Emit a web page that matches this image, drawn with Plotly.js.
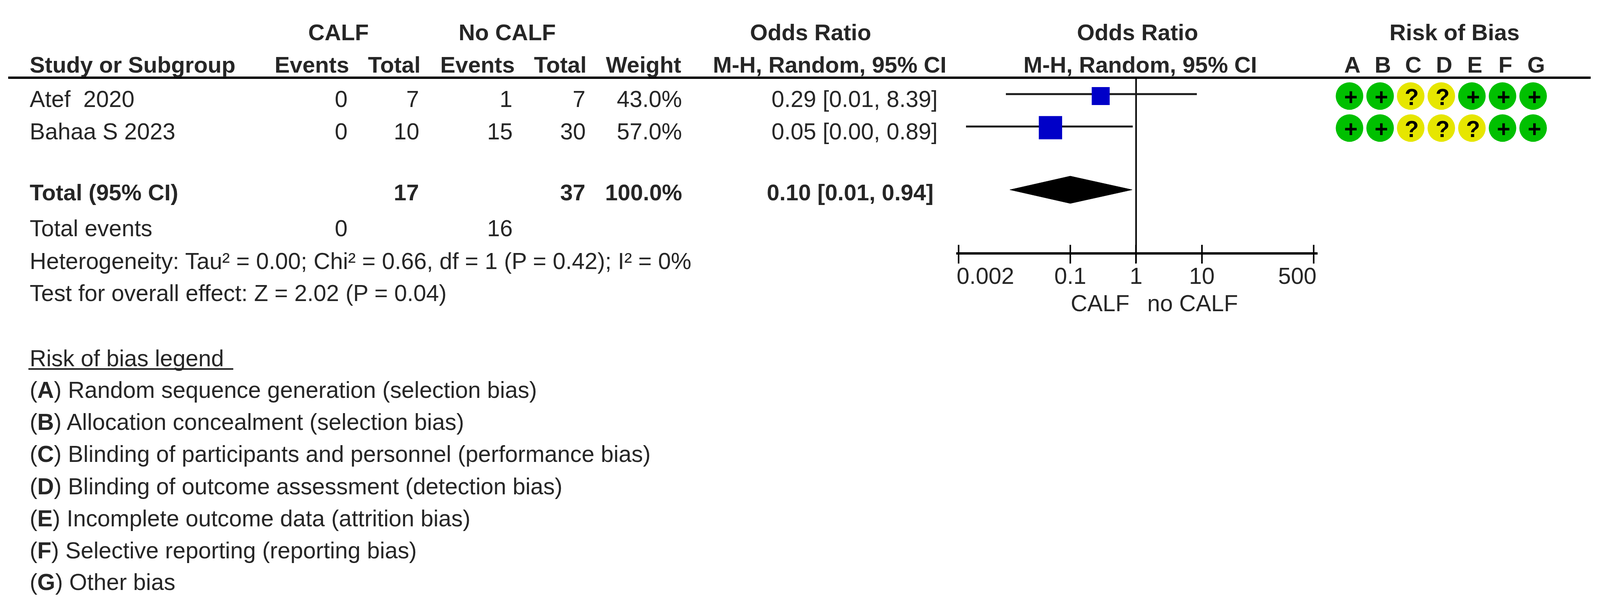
<!DOCTYPE html>
<html>
<head>
<meta charset="utf-8">
<script src="https://cdn.plot.ly/plotly-3.0.1.min.js"></script>
<style>html,body{margin:0;padding:0;background:#fff;overflow:hidden}</style>
</head>
<body>
<div id="chart"></div>
<script>
// ---- data ----
const studies = ["Atef  2020", "Bahaa S 2023"];
const calfEvents = [0, 0];
const calfTotal = [7, 10];
const noCalfEvents = [1, 15];
const noCalfTotal = [7, 30];
const weights = ["43.0%", "57.0%"];
const orText = ["0.29 [0.01, 8.39]", "0.05 [0.00, 0.89]"];
const orValue = [0.29, 0.05];
const ciLow = [0.0105, 0.0026];
const ciHigh = [8.39, 0.89];
const totalRow = {label:"Total (95% CI)", calf:17, noCalf:37, weight:"100.0%", or:"0.10 [0.01, 0.94]"};
const pooled = [0.0121, 0.1, 0.87];
const eventsRow = {label:"Total events", calf:0, noCalf:16};
const notes = ["Heterogeneity: Tau² = 0.00; Chi² = 0.66, df = 1 (P = 0.42); I² = 0%",
               "Test for overall effect: Z = 2.02 (P = 0.04)"];
const tickVals = [0.002, 0.1, 1, 10, 500];
const tickLabels = ["0.002", "0.1", "1", "10", "500"];
const domains = ["A","B","C","D","E","F","G"];
const riskAtef = ["+","+","?","?","+","+","+"];
const riskBahaa = ["+","+","?","?","?","+","+"];
const legendTitle = "Risk of bias legend";
const legendItems = ["Random sequence generation (selection bias)",
  "Allocation concealment (selection bias)",
  "Blinding of participants and personnel (performance bias)",
  "Blinding of outcome assessment (detection bias)",
  "Incomplete outcome data (attrition bias)",
  "Selective reporting (reporting bias)",
  "Other bias"];

// ---- page geometry: positions below are in reference pixels (4280 wide);
// the figure fits the window the browser really opens, which may be narrower ----
const REF_W = 4280, H = 1552;
const W = Math.min(window.innerWidth || REF_W, REF_W);
const k = W / REF_W;
const FS_REG = 61.5 * k, FS_BOLD = 60.8 * k, INK = "#262626", FONT = "Liberation Sans, Arial, sans-serif";
const oneX = 3039, decade = 176;           // reference pixel of OR=1, pixels per decade
const axL = 2558, axR = 3524, axY = 649;
const toLog = p => (p - oneX) / decade;
const px = p => p / REF_W, py = p => 1 - p / H;

const ann = [];
function txt(text, x, y, anchor, bold) {
  ann.push({text: bold ? "<b>" + text + "</b>" : String(text), xref:"paper", yref:"paper",
    x: px(x), y: py(y), xanchor: anchor, yanchor:"middle", showarrow:false, borderpad:0,
    font:{family:FONT, size: bold ? FS_BOLD : FS_REG, color:INK}});
}
// headers
txt("CALF", 905, 82, "center", true);
txt("No CALF", 1357, 82, "center", true);
txt("Odds Ratio", 2168, 82, "center", true);
txt("Odds Ratio", 3043, 82, "center", true);
txt("Risk of Bias", 3891, 82, "center", true);
txt("Study or Subgroup", 78, 166, "left", true);
txt("Events", 935, 166, "right", true);
txt("Total", 1126, 166, "right", true);
txt("Events", 1378, 166, "right", true);
txt("Total", 1570, 166, "right", true);
txt("Weight", 1823, 166, "right", true);
txt("M-H, Random, 95% CI", 2533, 166, "right", true);
txt("M-H, Random, 95% CI", 3364, 166, "right", true);
domains.forEach((d, i) => txt(d, 3617 + i * 82, 166, "center", true));
// study rows
const rowY = [254, 336];
studies.forEach((s, i) => {
  txt(s, 78, rowY[i], "left");
  txt(calfEvents[i], 931, rowY[i], "right");
  txt(calfTotal[i], 1122, rowY[i], "right");
  txt(noCalfEvents[i], 1372, rowY[i], "right");
  txt(noCalfTotal[i], 1567, rowY[i], "right");
  txt(weights[i], 1826, rowY[i], "right");
  txt(orText[i], 2509, rowY[i], "right");
});
// totals
txt(totalRow.label, 78, 492, "left", true);
txt(totalRow.calf, 1122, 492, "right", true);
txt(totalRow.noCalf, 1567, 492, "right", true);
txt(totalRow.weight, 1826, 492, "right", true);
txt(totalRow.or, 2498, 492, "right", true);
txt(eventsRow.label, 78, 584, "left");
txt(eventsRow.calf, 931, 584, "right");
txt(eventsRow.noCalf, 1372, 584, "right");
txt(notes[0], 78, 668, "left");
txt(notes[1], 78, 750, "left");
// risk legend
txt(legendTitle, 78, 917, "left");
const legY = [998, 1080, 1162, 1245, 1327, 1409, 1490];
legendItems.forEach((t, i) => txt("(<b>" + domains[i] + "</b>) " + t, 78, legY[i], "left"));
// axis caption
txt("CALF", 2863, 776, "left");
txt("no CALF", 3068, 776, "left");
// axis tick labels (the two end labels sit inside the end ticks)
tickVals.forEach((v, i) => {
  ann.push({text: tickLabels[i], xref:"x", yref:"paper", x: Math.log10(v),
    y: py(707), xanchor: i === 0 ? "left" : i === tickVals.length - 1 ? "right" : "center",
    xshift: i === 0 ? -6 * k : i === tickVals.length - 1 ? 8 * k : 0,
    yanchor:"middle", showarrow:false, borderpad:0, font:{family:FONT, size:FS_REG, color:INK}});
});

// ---- traces ----
const traces = [];
// reference line
traces.push({x:[1,1], y:[200,672], mode:"lines", line:{color:"#000", width:4}});
// confidence intervals
const ciY = [241, 324];
studies.forEach((s, i) => traces.push({x:[ciLow[i], ciHigh[i]], y:[ciY[i], ciY[i]], mode:"lines",
  line:{color:"#1a1a1a", width:5}, name:s}));
// study squares
traces.push({x:orValue, y:[246,327], mode:"markers",
  marker:{symbol:"square", color:"#0000c8", opacity:1, size:[47,61].map(s => s * (k + 1) / 2), line:{width:0}}});
// pooled diamond
traces.push({x:[pooled[0],pooled[1],pooled[2],pooled[1],pooled[0]], y:[486,451,486,521,486], mode:"lines",
  fill:"toself", fillcolor:"#000", line:{color:"#000", width:1}});
// risk of bias matrix: coloured discs are markers, their signs are annotations placed on the same axes
const col = {"+":"#00c000", "?":"#e6e600"};
[riskAtef, riskBahaa].forEach((r, i) => {
  traces.push({x:domains, y:domains.map(() => studies[i]), xaxis:"x3", yaxis:"y3", mode:"markers",
    marker:{symbol:"circle", size:72 * (k + 1) / 2, color:r.map(v => col[v]), opacity:1, line:{width:0}}});
  r.forEach((v, j) => ann.push({text:"<b>" + v + "</b>", xref:"x3", yref:"y3", x:domains[j], y:studies[i],
    xshift:3 * k, yshift:-3, xanchor:"center", yanchor:"middle", showarrow:false, borderpad:0,
    font:{family:FONT, size:59, color:"#000"}}));
});
// the second x axis needs a trace to be drawn
traces.push({x:[1], y:[axY], xaxis:"x2", mode:"markers", marker:{opacity:0}});
traces.forEach(t => { t.showlegend = false; t.hoverinfo = "skip"; });

const xr = [toLog(axL), toLog(axR)];
const layout = {
  width:W, height:H, margin:{l:0,r:0,t:0,b:0}, paper_bgcolor:"#fff", plot_bgcolor:"rgba(0,0,0,0)",
  showlegend:false, font:{family:FONT, size:FS_REG, color:INK},
  xaxis:{type:"log", domain:[px(axL),px(axR)], range:xr, anchor:"free", position:py(axY), side:"bottom",
    tickmode:"array", tickvals:tickVals, ticktext:tickVals.map(()=>""), ticks:"outside", ticklen:23, tickwidth:4, tickcolor:"#000",
    showline:true, linecolor:"#000", linewidth:6, showgrid:false, zeroline:false},
  xaxis2:{type:"log", overlaying:"x", domain:[px(axL),px(axR)], range:xr, anchor:"free", position:py(axY), side:"top",
    tickmode:"array", tickvals:tickVals, ticktext:tickVals.map(()=>""), ticks:"outside", ticklen:22, tickwidth:4, tickcolor:"#000",
    showline:false, showgrid:false, zeroline:false},
  yaxis:{domain:[0,1], range:[H,0], visible:false, anchor:"x"},
  xaxis3:{domain:[px(3610-41),px(4101+41)], type:"category", categoryarray:domains, range:[-0.5,6.5], visible:false, anchor:"y3"},
  yaxis3:{domain:[py(369),py(205)], type:"category", categoryarray:studies, range:[1.5,-0.5], visible:false, anchor:"x3"},
  annotations:ann,
  shapes:[
    {type:"line", xref:"paper", yref:"paper", x0:px(22), x1:px(4255), y0:py(199), y1:py(199), line:{color:"#000", width:6}},
    {type:"line", xref:"paper", yref:"paper", x0:px(76), x1:px(624), y0:py(945), y1:py(945), line:{color:"#222", width:4}}
  ]
};
Plotly.newPlot("chart", traces, layout, {displayModeBar:false, staticPlot:true});
</script>
</body>
</html>
